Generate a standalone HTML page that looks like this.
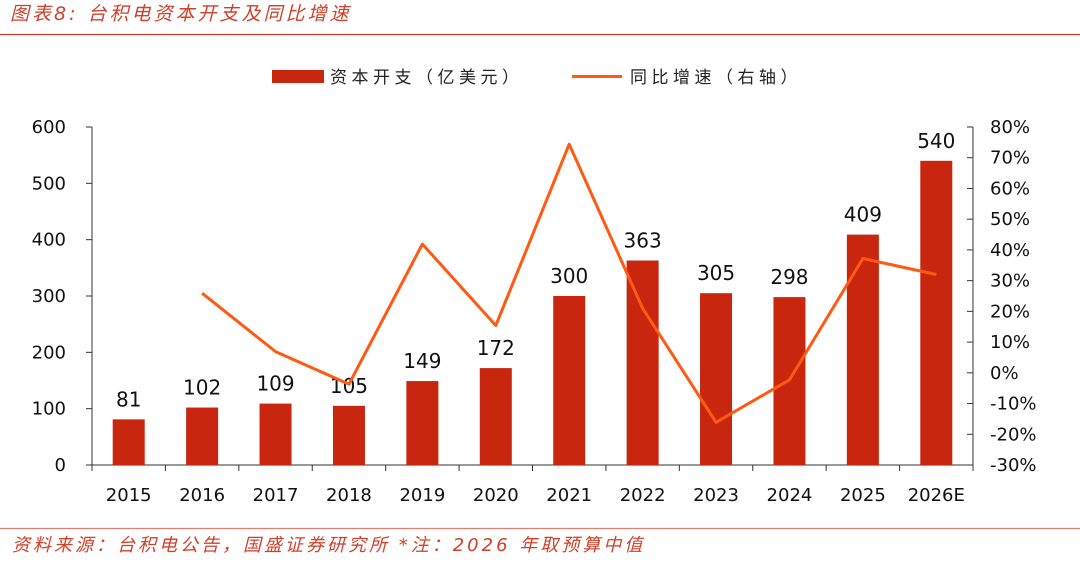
<!DOCTYPE html>
<html><head><meta charset="utf-8"><style>
body{margin:0;background:#fff;width:1080px;height:560px;overflow:hidden;font-family:"Liberation Sans","Noto Sans CJK SC",sans-serif}
svg text{font-family:"DejaVu Sans","Liberation Sans","Noto Sans CJK SC",sans-serif}
</style></head><body>
<svg id="c" width="1080" height="560">
<text x="10" y="20" fill="#d0402a" font-size="19" font-style="italic" letter-spacing="3" font-family="Liberation Sans,Noto Sans CJK SC,sans-serif">图表8:  台积电资本开支及同比增速</text>
<line x1="0" y1="34.5" x2="1080" y2="34.5" stroke="#c8402a" stroke-width="1.2"/>
<rect x="272" y="70" width="52" height="13" fill="#c8260e"/>
<text x="330" y="83" font-size="17" fill="#222" letter-spacing="4.5">资本开支（亿美元）</text>
<line x1="572" y1="76.5" x2="622" y2="76.5" stroke="#ff5a14" stroke-width="3"/>
<text x="630" y="83" font-size="17" fill="#222" letter-spacing="4.5">同比增速（右轴）</text>
<line x1="0" y1="528.5" x2="1080" y2="528.5" stroke="#e08070" stroke-width="1.2"/>
<text x="12" y="551" fill="#d0402a" font-size="18" font-style="italic" letter-spacing="3" font-family="Liberation Sans,Noto Sans CJK SC,sans-serif">资料来源：台积电公告，国盛证券研究所 *注：2026 年取预算中值</text>
</svg>
<script>
const categories=["2015","2016","2017","2018","2019","2020","2021","2022","2023","2024","2025","2026E"];
const capex=[81,102,109,105,149,172,300,363,305,298,409,540];
const growth=[null,25.9,6.9,-3.7,41.9,15.4,74.4,21.0,-16.1,-2.3,37.2,32.0];
const leftTicks=[0,100,200,300,400,500,600];
const rightTicks=[-30,-20,-10,0,10,20,30,40,50,60,70,80];
const NS="http://www.w3.org/2000/svg",svg=document.getElementById('c');
const X0=92,X1=973,Y0=465,Y1=127,bw=(X1-X0)/categories.length;
const yL=v=>Y0-(v-0)/(600-0)*(Y0-Y1);
const yR=v=>Y0-(v+30)/110*(Y0-Y1);
const xC=i=>X0+(i+0.5)*bw;
function mk(t,a,txt){const e=document.createElementNS(NS,t);for(const k in a)e.setAttribute(k,a[k]);if(txt!=null)e.textContent=txt;svg.appendChild(e);return e;}
let e;
e=mk('line',{x1:X0,y1:Y1,x2:X0,y2:Y0,stroke:'#333'});


e=mk('line',{x1:X1,y1:Y1,x2:X1,y2:Y0,stroke:'#333'});


e=mk('line',{x1:X0,y1:Y0,x2:X1,y2:Y0,stroke:'#333'});


leftTicks.forEach(v=>{
 mk('line',{x1:X0-6,y1:yL(v),x2:X0,y2:yL(v),stroke:'#333'});
 e=mk('text',{x:66,y:yL(v)+6,'text-anchor':'end','font-size':18,fill:'#111'},v);
 
 
});
rightTicks.forEach(v=>{
 mk('line',{x1:X1-6,y1:yR(v),x2:X1,y2:yR(v),stroke:'#333'});
 e=mk('text',{x:990,y:yR(v)+6,'font-size':18,fill:'#111'},v+'%');
 
 
});
for(let i=0;i<=categories.length;i++)mk('line',{x1:X0+i*bw,y1:Y0,x2:X0+i*bw,y2:Y0+6,stroke:'#333'});
categories.forEach((c,i)=>{
 e=mk('text',{x:xC(i),y:501,'text-anchor':'middle','font-size':18,fill:'#111'},c);
 
 
 e=mk('rect',{x:xC(i)-16,y:yL(capex[i]),width:32,height:Y0-yL(capex[i]),fill:'#c8260e'});
 
 
 e=mk('text',{x:xC(i),y:yL(capex[i])-13,'text-anchor':'middle','font-size':20,fill:'#111'},capex[i]);
 
 
});
const pts=growth.map((g,i)=>g==null?null:xC(i)+','+yR(g)).filter(p=>p);
e=mk('polyline',{points:pts.join(' '),fill:'none',stroke:'#ff5a14','stroke-width':3,'stroke-linejoin':'round'});


</script>
</body></html>
